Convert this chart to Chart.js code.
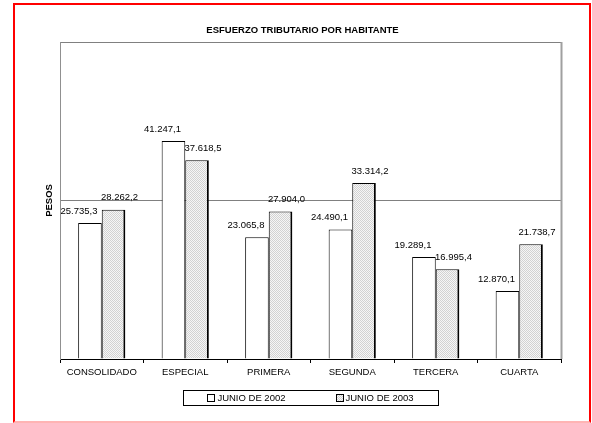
<!DOCTYPE html>
<html><head><meta charset="utf-8">
<script src="https://cdn.jsdelivr.net/npm/chart.js@4"></script>
<style>
html,body{margin:0;padding:0;background:#fff;}
#wrap{position:absolute;left:0;top:0;width:592px;height:423px;}
#frame{position:absolute;left:13px;top:3px;width:574px;height:416px;border:2px solid #ff0000;border-bottom-color:#ffb4b4;pointer-events:none;}
</style></head><body>
<div id="wrap"><canvas id="c" width="592" height="423"></canvas></div>
<div id="frame"></div>
<script>
const categories = ['CONSOLIDADO','ESPECIAL','PRIMERA','SEGUNDA','TERCERA','CUARTA'];
const junio2002 = [25735.3, 41247.1, 23065.8, 24490.1, 19289.1, 12870.1];
const junio2003 = [28262.2, 37618.5, 27904.0, 33314.2, 16995.4, 21738.7];
const seriesNames = ['JUNIO DE 2002','JUNIO DE 2003'];
const chartTitle = 'ESFUERZO TRIBUTARIO POR HABITANTE';
const yAxisTitle = 'PESOS';
const yMax = 60000;
const yStep = 30000;

const FONT = "'Liberation Sans', Arial, sans-serif";

function fmt(v){
  const s = v.toFixed(1).split('.');
  const i = s[0].replace(/\B(?=(\d{3})+(?!\d))/g,'.');
  return i + ',' + s[1];
}

function makePattern(){
  const p = document.createElement('canvas');
  p.width = 2; p.height = 2;
  const g = p.getContext('2d');
  g.fillStyle = '#f6f6f6'; g.fillRect(0,0,2,2);
  g.fillStyle = '#d2d2d2'; g.fillRect(0,0,1,1); g.fillRect(1,1,1,1);
  return g.createPattern(p,'repeat');
}
const ctx = document.getElementById('c').getContext('2d');
const pattern = makePattern();

const plotFrame = {
  id:'plotFrame',
  beforeDatasetsDraw(chart){
    const a = chart.chartArea, c = chart.ctx;
    c.save();
    c.strokeStyle = '#a0a0a0'; c.lineWidth = 2;
    c.beginPath(); c.moveTo(a.right+0.5, a.top); c.lineTo(a.right+0.5, a.bottom); c.stroke();
    c.restore();
  }
};

const valueLabels = {
  id:'valueLabels',
  afterDatasetsDraw(chart){
    const c = chart.ctx;
    c.save();
    c.font = '9.5px ' + FONT;
    c.fillStyle = '#000';
    c.textAlign = 'center';
    c.textBaseline = 'middle';
    const offs = [-11, 6];
    chart.data.datasets.forEach((ds, di)=>{
      const meta = chart.getDatasetMeta(di);
      meta.data.forEach((bar, i)=>{
        c.fillText(fmt(ds.data[i]), bar.x + offs[di], bar.y - 12);
      });
    });
    c.restore();
  }
};

const boxLegend = {
  id:'boxLegend',
  afterDraw(chart){
    const c = chart.ctx, a = chart.chartArea;
    c.save();
    c.font = '9.5px ' + FONT;
    const cx = (a.left + a.right)/2;
    const boxW = 255, boxH = 15, top = 390;
    c.strokeStyle = '#000'; c.lineWidth = 1;
    c.strokeRect(Math.round(cx - boxW/2)+0.5, top+0.5, boxW, boxH);
    const gap = 50;
    const items = chart.data.datasets.map(ds=>({ds, w: 10 + c.measureText(ds.label).width}));
    const total = items.reduce((s,it)=>s+it.w,0) + gap*(items.length-1);
    let x = cx - total/2;
    const cy = top + boxH/2 + 0.5;
    c.textBaseline = 'middle'; c.textAlign = 'left'; c.fillStyle = '#000';
    items.forEach(it=>{
      c.fillStyle = it.ds.backgroundColor;
      c.fillRect(Math.round(x)+0.5, Math.round(cy-4)+0.5, 7, 7);
      c.strokeStyle = '#000';
      c.strokeRect(Math.round(x)+0.5, Math.round(cy-4)+0.5, 7, 7);
      c.fillStyle = '#000';
      c.fillText(it.ds.label, x + 10, cy);
      x += it.w + gap;
    });
    c.restore();
  }
};

new Chart(ctx, {
  type:'bar',
  data:{
    labels: categories,
    datasets:[
      {label: seriesNames[0], data: junio2002, backgroundColor:'#ffffff', borderColor:'#000', borderWidth:1, borderSkipped:'bottom'},
      {label: seriesNames[1], data: junio2003, backgroundColor: pattern, borderColor:'#000', borderWidth:{top:1,left:1,right:2,bottom:0}, borderSkipped:false}
    ]
  },
  options:{
    responsive:false,
    animation:false,
    events:[],
    layout:{padding:{left:44, right:31, top:20, bottom:40}},
    datasets:{bar:{categoryPercentage:0.565, barPercentage:1}},
    plugins:{
      legend:{display:false},
      tooltip:{enabled:false},
      title:{display:true, text: chartTitle, color:'#000', font:{family:FONT, size:9.5, weight:'bold'}, padding:{top:5, bottom:5.6}}
    },
    scales:{
      x:{
        grid:{offset:true, drawOnChartArea:false, drawTicks:true, tickLength:4, color:'#000'},
        border:{color:'#000', width:1},
        ticks:{color:'#000', font:{family:FONT, size:9.5}, padding:4, maxRotation:0, autoSkip:false},
        afterFit(s){ s.height = 24; }
      },
      y:{
        min:0, max:yMax,
        ticks:{display:false, stepSize:yStep},
        grid:{color:'#808080', drawTicks:false},
        border:{color:'#909090', width:1},
        title:{display:true, text:yAxisTitle, color:'#000', font:{family:FONT, size:9.5, weight:'bold'}, padding:0},
        afterFit(s){ s.width = 16; }
      }
    }
  },
  plugins:[plotFrame, valueLabels, boxLegend]
});
</script>
</body></html>
